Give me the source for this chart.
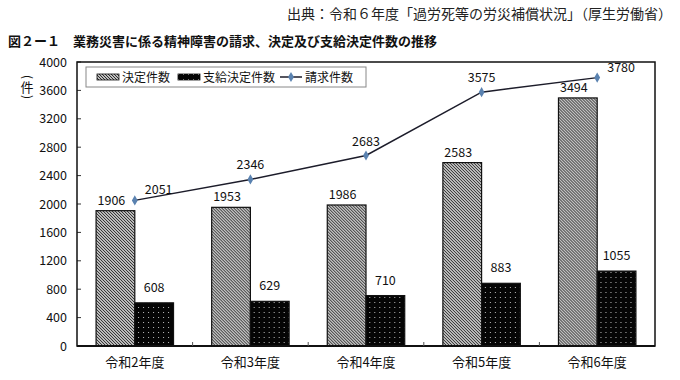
<!DOCTYPE html>
<html>
<head>
<meta charset="utf-8">
<script src="https://cdn.jsdelivr.net/npm/d3@7"></script>
<style>
  body { margin: 0; background: #fff; }
  text { font-family: "Noto Sans CJK JP", "Noto Sans", sans-serif; }
</style>
</head>
<body>
<div id="chart"></div>
<script>
const years = ["令和2年度", "令和3年度", "令和4年度", "令和5年度", "令和6年度"];
const decided = [1906, 1953, 1986, 2583, 3494];
const approved = [608, 629, 710, 883, 1055];
const claims = [2051, 2346, 2683, 3575, 3780];
const claimLabelPos = ["right", "above", "above", "above", "right"];
const yTicks = [0, 400, 800, 1200, 1600, 2000, 2400, 2800, 3200, 3600, 4000];

const width = 680;
const height = 380;
const margin = { top: 62, right: 25, bottom: 34, left: 77 };

const svg = d3
  .select("#chart")
  .append("svg")
  .attr("width", width)
  .attr("height", height);

const defs = svg.append("defs");

const hatch = defs
  .append("pattern")
  .attr("id", "hatch")
  .attr("patternUnits", "userSpaceOnUse")
  .attr("width", 3)
  .attr("height", 3);
hatch.append("rect").attr("width", 3).attr("height", 3).attr("fill", "#fff");
hatch
  .append("path")
  .attr("d", "M-1,-1 L4,4 M-1,2 L1,4 M2,-1 L4,1")
  .attr("stroke", "#222")
  .attr("stroke-width", 1.1);

const dots = defs
  .append("pattern")
  .attr("id", "dots")
  .attr("patternUnits", "userSpaceOnUse")
  .attr("width", 5)
  .attr("height", 5);
dots.append("rect").attr("width", 5).attr("height", 5).attr("fill", "#050505");
dots
  .append("rect")
  .attr("x", 2)
  .attr("y", 2)
  .attr("width", 1)
  .attr("height", 1)
  .attr("fill", "#bbb");

const x = d3
  .scaleBand()
  .domain(years)
  .range([margin.left, width - margin.right])
  .paddingInner(0.33)
  .paddingOuter(0.165);

const y = d3
  .scaleLinear()
  .domain([0, 4000])
  .range([height - margin.bottom, margin.top]);

const half = x.bandwidth() / 2;

// title + source
svg
  .append("text")
  .attr("x", 672)
  .attr("y", 19)
  .attr("text-anchor", "end")
  .style("font-size", "14px")
  .attr("fill", "#222")
  .text("出典：令和６年度「過労死等の労災補償状況」（厚生労働省）");

svg
  .append("text")
  .attr("x", 8)
  .attr("y", 46)
  .style("font-size", "13px")
  .style("font-weight", "bold")
  .attr("fill", "#111")
  .text("図２ー１　業務災害に係る精神障害の請求、決定及び支給決定件数の推移");

// y axis labels
svg
  .append("g")
  .selectAll("text")
  .data(yTicks)
  .enter()
  .append("text")
  .attr("x", 67)
  .attr("y", (d) => y(d) + 4.5)
  .attr("text-anchor", "end")
  .style("font-size", "12.5px")
  .attr("fill", "#111")
  .text((d) => d);

svg
  .append("g")
  .selectAll("line")
  .data(yTicks)
  .enter()
  .append("line")
  .attr("x1", margin.left)
  .attr("x2", margin.left + 4)
  .attr("y1", (d) => y(d))
  .attr("y2", (d) => y(d))
  .attr("stroke", "#333");

// vertical "(件)"
const unit = svg.append("g").attr("transform", "translate(27,87)");
unit
  .append("text")
  .attr("transform", "translate(0,-10) rotate(90)")
  .attr("text-anchor", "middle")
  .attr("dy", "0.35em")
  .style("font-size", "12px")
  .attr("fill", "#111")
  .text("(");
unit
  .append("text")
  .attr("text-anchor", "middle")
  .attr("dy", "0.38em")
  .style("font-size", "13px")
  .attr("fill", "#111")
  .text("件");
unit
  .append("text")
  .attr("transform", "translate(0,10) rotate(90)")
  .attr("text-anchor", "middle")
  .attr("dy", "0.35em")
  .style("font-size", "12px")
  .attr("fill", "#111")
  .text(")");

// bars
const groups = svg
  .append("g")
  .selectAll("g")
  .data(years)
  .enter()
  .append("g")
  .attr("transform", (d) => `translate(${x(d)},0)`);

groups
  .append("rect")
  .attr("x", 0)
  .attr("y", (d, i) => y(decided[i]))
  .attr("width", half)
  .attr("height", (d, i) => y(0) - y(decided[i]))
  .attr("fill", "url(#hatch)")
  .attr("stroke", "#111")
  .attr("stroke-width", 1.2);

groups
  .append("rect")
  .attr("x", half)
  .attr("y", (d, i) => y(approved[i]))
  .attr("width", half)
  .attr("height", (d, i) => y(0) - y(approved[i]))
  .attr("fill", "url(#dots)")
  .attr("stroke", "#111")
  .attr("stroke-width", 1.2);

groups
  .append("text")
  .attr("x", half / 2 - 4)
  .attr("y", (d, i) => y(decided[i]) - 6)
  .attr("text-anchor", "middle")
  .style("font-size", "12.5px")
  .attr("fill", "#111")
  .text((d, i) => decided[i]);

groups
  .append("text")
  .attr("x", half * 1.5)
  .attr("y", (d, i) => y(approved[i]) - 11)
  .attr("text-anchor", "middle")
  .style("font-size", "12.5px")
  .attr("fill", "#111")
  .text((d, i) => approved[i]);

// claims line
const cx = (d, i) => x(years[i]) + half;
const line = d3
  .line()
  .x((d, i) => cx(d, i))
  .y((d) => y(d));

svg
  .append("path")
  .datum(claims)
  .attr("d", line)
  .attr("fill", "none")
  .attr("stroke", "#1c1c2a")
  .attr("stroke-width", 1.5);

const diamond = d3.symbol().type(d3.symbolDiamond).size(30);

svg
  .append("g")
  .selectAll("path")
  .data(claims)
  .enter()
  .append("path")
  .attr("d", diamond)
  .attr("transform", (d, i) => `translate(${cx(d, i)},${y(d)})`)
  .attr("fill", "#5a82b0");

svg
  .append("g")
  .selectAll("text")
  .data(claims)
  .enter()
  .append("text")
  .attr("x", (d, i) => (claimLabelPos[i] === "right" ? cx(d, i) + 10 : cx(d, i)))
  .attr("y", (d, i) => (claimLabelPos[i] === "right" ? y(d) - 6 : y(d) - 10))
  .attr("text-anchor", (d, i) => (claimLabelPos[i] === "right" ? "start" : "middle"))
  .style("font-size", "12.5px")
  .attr("fill", "#111")
  .text((d) => d);

// frame and x axis
svg
  .append("rect")
  .attr("x", margin.left)
  .attr("y", margin.top)
  .attr("width", width - margin.left - margin.right)
  .attr("height", height - margin.top - margin.bottom)
  .attr("fill", "none")
  .attr("stroke", "#111")
  .attr("stroke-width", 1.5);

svg
  .append("line")
  .attr("x1", margin.left)
  .attr("x2", width - margin.right)
  .attr("y1", y(0))
  .attr("y2", y(0))
  .attr("stroke", "#111")
  .attr("stroke-width", 2);

const step = x.step();
svg
  .append("g")
  .selectAll("line")
  .data(years.slice(1))
  .enter()
  .append("line")
  .attr("x1", (d) => x(d) - (step - x.bandwidth()) / 2)
  .attr("x2", (d) => x(d) - (step - x.bandwidth()) / 2)
  .attr("y1", y(0))
  .attr("y2", y(0) - 4)
  .attr("stroke", "#555");

svg
  .append("g")
  .selectAll("text")
  .data(years)
  .enter()
  .append("text")
  .attr("x", (d) => x(d) + half)
  .attr("y", 367)
  .attr("text-anchor", "middle")
  .style("font-size", "13px")
  .attr("fill", "#111")
  .text((d) => d);

// legend
const legend = svg.append("g").attr("transform", "translate(86,67)");
legend
  .append("rect")
  .attr("width", 280)
  .attr("height", 20)
  .attr("fill", "#fff")
  .attr("stroke", "#888");

const items = [
  { label: "決定件数", fill: "url(#hatch)", x: 11 },
  { label: "支給決定件数", fill: "url(#dots)", x: 92 },
  { label: "請求件数", fill: null, x: 194 },
];

items.forEach((it) => {
  if (it.fill) {
    legend
      .append("rect")
      .attr("x", it.x)
      .attr("y", 7)
      .attr("width", 22)
      .attr("height", 6)
      .attr("fill", it.fill)
      .attr("stroke", "#111")
      .attr("stroke-width", 0.8);
  } else {
    legend
      .append("line")
      .attr("x1", it.x)
      .attr("x2", it.x + 22)
      .attr("y1", 10)
      .attr("y2", 10)
      .attr("stroke", "#1c1c2a")
      .attr("stroke-width", 1.5);
    legend
      .append("path")
      .attr("d", diamond)
      .attr("transform", `translate(${it.x + 11},10)`)
      .attr("fill", "#5a82b0");
  }
  legend
    .append("text")
    .attr("x", it.x + 25)
    .attr("y", 14.5)
    .style("font-size", "12px")
    .attr("fill", "#111")
    .text(it.label);
});
</script>
</body>
</html>
